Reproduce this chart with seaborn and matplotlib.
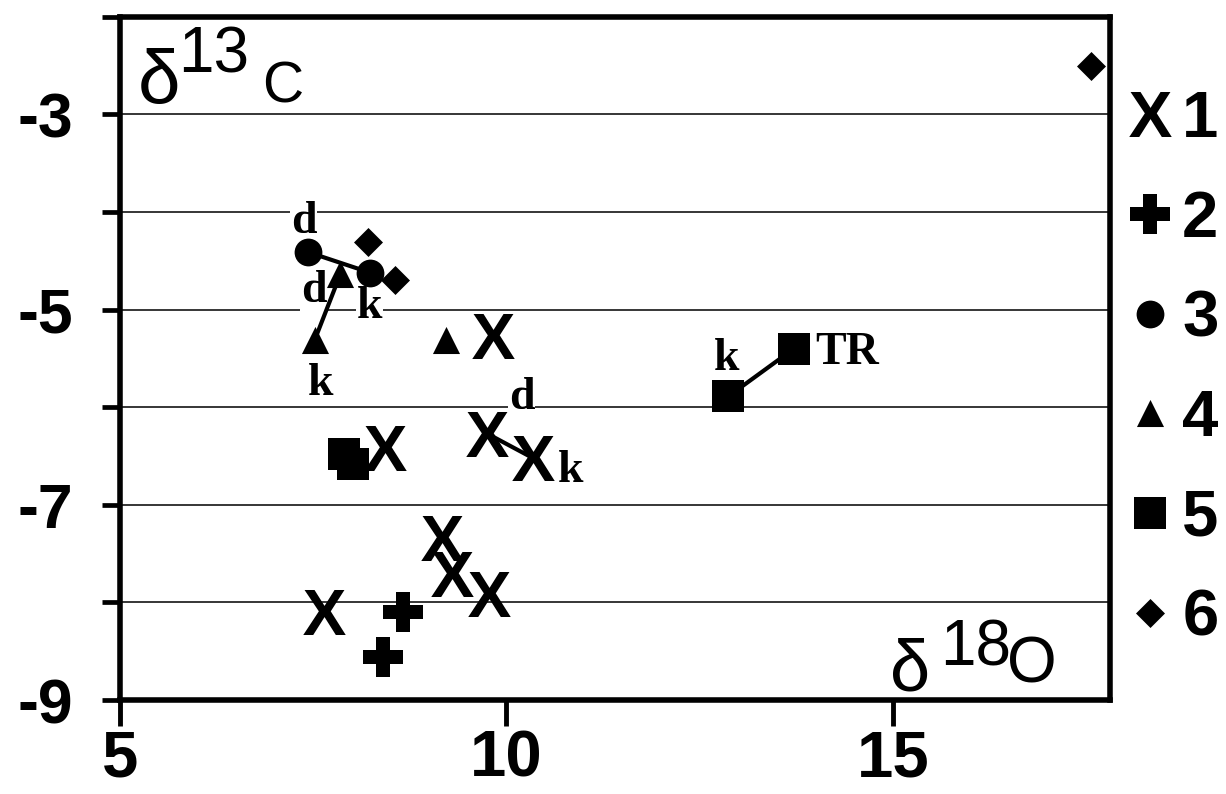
import matplotlib
matplotlib.use('Agg')
import matplotlib.pyplot as plt
import seaborn as sns

# d18O (x) and d13C (y) values, one pair of lists per group
x_grp1 = [9.83, 8.43, 9.75, 10.34, 9.17, 9.29, 9.77, 7.64]
y_grp1 = [-5.27, -6.42, -6.27, -6.52, -7.34, -7.71, -7.91, -8.10]
x_grp2 = [8.66, 8.40]
y_grp2 = [-8.10, -8.56]
x_grp3 = [7.43, 8.23]
y_grp3 = [-4.41, -4.62]
x_grp4 = [7.85, 7.52, 9.22]
y_grp4 = [-4.64, -5.31, -5.31]
x_grp5 = [7.90, 8.01, 12.87, 13.72]
y_grp5 = [-6.48, -6.58, -5.89, -5.40]
x_grp6 = [8.21, 8.56, 17.56]
y_grp6 = [-4.31, -4.70, -2.50]
group_names = ['1', '2', '3', '4', '5', '6']

# paired samples joined by a line: (group, point a, point b, tag a, tag b)
pairs = [(3, 0, 1, 'd', 'k'),
         (4, 0, 1, 'd', 'k'),
         (1, 2, 3, 'd', 'k'),
         (5, 2, 3, 'k', 'TR')]

xs = [x_grp1, x_grp2, x_grp3, x_grp4, x_grp5, x_grp6]
ys = [y_grp1, y_grp2, y_grp3, y_grp4, y_grp5, y_grp6]

# marker style and size (pt^2) per group
markers = [r'$\mathbf{X}$', 'P', 'o', '^', 's', 'D']
msizes = [1050, 870, 400, 380, 530, 218]

# where each tag sits relative to its point (offset points)
tag_offsets = {(3, 0): (-3, 14), (3, 1): (0, -33),
               (4, 0): (-19, -20), (4, 1): (4, -40),
               (1, 2): (25, 18), (1, 3): (27, -17),
               (5, 2): (-1, 19), (5, 3): (38, -11)}

sns.set_style('white')
plt.rcParams['font.family'] = ['Liberation Sans', 'DejaVu Sans']
plt.rcParams['mathtext.fontset'] = 'custom'
plt.rcParams['mathtext.bf'] = 'Liberation Sans:bold'
for key in ['text.color', 'axes.labelcolor', 'xtick.color', 'ytick.color']:
    plt.rcParams[key] = 'black'

W, H = 1226, 794
fig = plt.figure(figsize=(W / 100, H / 100), dpi=100)
ax = fig.add_axes([120 / W, 1 - 700 / H, 990 / W, 683.2 / H])

# groups
for i, name in enumerate(group_names):
    sns.scatterplot(x=xs[i], y=ys[i], marker=markers[i], s=msizes[i],
                    color='black', edgecolor='black', linewidth=0,
                    label=name, zorder=3, ax=ax)

# connecting lines + d/k/TR tags
for g, a, b, ta, tb in pairs:
    gx, gy = xs[g - 1], ys[g - 1]
    ax.plot([gx[a], gx[b]], [gy[a], gy[b]], color='black', lw=3, zorder=2)
    for idx, tag in ((a, ta), (b, tb)):
        ax.annotate(tag, (gx[idx], gy[idx]), xytext=tag_offsets[(g, idx)],
                    textcoords='offset points', ha='center', va='baseline',
                    fontsize=33, fontweight='bold', family='Liberation Serif',
                    color='black',
                    bbox=dict(fc='white', ec='none', pad=0.5), zorder=1.5)

ax.set_xlim(5, 17.81)
ax.set_ylim(-9, -2)
ax.set_xlabel('')
ax.set_ylabel('')

yticks = list(range(-9, -1))
ax.set_yticks(yticks)
ax.set_yticklabels([str(v) if v % 2 else '' for v in yticks])
ax.set_xticks([5, 10, 15])
ax.set_xticklabels(['5', '10', '15'])
ax.tick_params(axis='y', direction='out', length=13, width=3.4, pad=21,
               labelsize=45, color='black', labelcolor='black', left=True)
ax.tick_params(axis='x', direction='out', length=19, width=3.5, pad=2,
               labelsize=47, color='black', labelcolor='black', bottom=True)
for lab in ax.get_xticklabels() + ax.get_yticklabels():
    lab.set_fontweight('bold')

ax.yaxis.grid(True, color='black', lw=1.1)
ax.xaxis.grid(False)
ax.set_axisbelow(True)
for sp in ax.spines.values():
    sp.set_visible(True)
    sp.set_color('black')
    sp.set_linewidth(4)

# axis names written inside the frame
ax.text(0.018, 0.874, 'δ', transform=ax.transAxes, fontsize=55, ha='left', va='baseline')
ax.text(0.0586, 0.919, '13', transform=ax.transAxes, fontsize=46, ha='left', va='baseline')
ax.text(0.1434, 0.874, 'C', transform=ax.transAxes, fontsize=41, ha='left', va='baseline')
ax.text(0.778, 0.0146, 'δ', transform=ax.transAxes, fontsize=52, ha='left', va='baseline')
ax.text(0.828, 0.0512, '18', transform=ax.transAxes, fontsize=46, ha='left', va='baseline')
ax.text(0.896, 0.0249, 'O', transform=ax.transAxes, fontsize=46, ha='left', va='baseline')

handles, labels = ax.get_legend_handles_labels()
leg = ax.legend(handles, labels, loc='upper left', bbox_to_anchor=(1130 / W, 0.887),
                bbox_transform=fig.transFigure, frameon=False,
                prop={'weight': 'bold', 'size': 47}, handlelength=0.6,
                handletextpad=0.2, labelspacing=0.61, borderpad=0, borderaxespad=0,
                scatteryoffsets=[0.5])
for t in leg.get_texts():
    t.set_color('black')

fig.savefig('out.png', dpi=100)
